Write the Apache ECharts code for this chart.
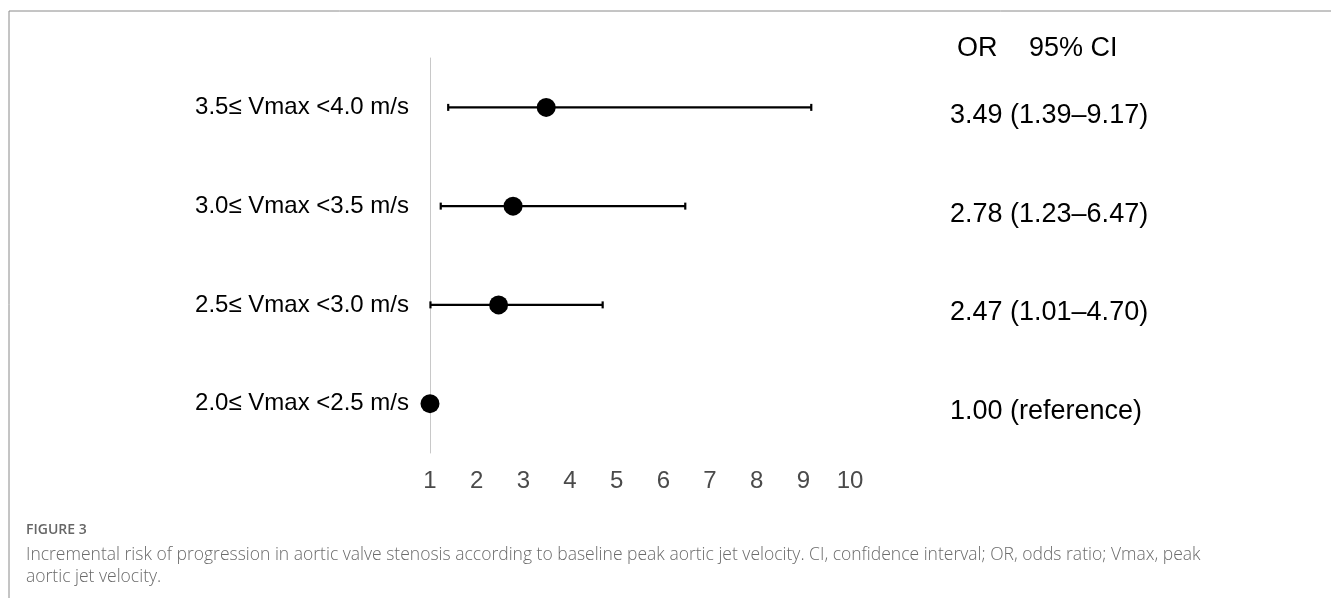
<!DOCTYPE html>
<html>
<head>
<meta charset="utf-8">
<script src="https://cdn.jsdelivr.net/npm/echarts@6/dist/echarts.min.js"></script>
<style>
html,body{margin:0;padding:0;background:#fff;}
#chart{width:1331px;height:598px;}
</style>
</head>
<body>
<div id="chart"></div>
<script>
// Data (bottom row first, as the category axis runs upward)
var categories = ['2.0≤ Vmax <2.5 m/s', '2.5≤ Vmax <3.0 m/s', '3.0≤ Vmax <3.5 m/s', '3.5≤ Vmax <4.0 m/s'];
var oddsRatio = [1.00, 2.47, 2.78, 3.49];
var ciLower = [null, 1.01, 1.23, 1.39];
var ciUpper = [null, 4.70, 6.47, 9.17];
var rightLabels = ['1.00 (reference)', '2.47 (1.01–4.70)', '2.78 (1.23–6.47)', '3.49 (1.39–9.17)'];
var xTicks = [1, 2, 3, 4, 5, 6, 7, 8, 9, 10];
var headerOR = 'OR';
var headerCI = '95% CI';
var captionTitle = 'FIGURE 3';
var captionText = 'Incremental risk of progression in aortic valve stenosis according to baseline peak aortic jet velocity. CI, confidence interval; OR, odds ratio; Vmax, peak\naortic jet velocity.';

var ciData = [];
for (var i = 0; i < categories.length; i++) {
  if (ciLower[i] != null) ciData.push([i, ciLower[i], ciUpper[i]]);
}
var pointData = oddsRatio.map(function (v, i) { return [v, i]; });

var chart = echarts.init(document.getElementById('chart'));
var FONT = '"Liberation Sans", Arial, sans-serif';

chart.setOption({
  animation: false,
  backgroundColor: '#fff',
  grid: { left: 430, right: 481, top: 58, bottom: 145, containLabel: false },
  xAxis: {
    type: 'value', min: xTicks[0], max: xTicks[xTicks.length - 1], interval: 1,
    axisLine: { show: false }, axisTick: { show: false }, splitLine: { show: false },
    axisLabel: { margin: 16, fontSize: 24, color: '#4a4a4a', fontFamily: FONT }
  },
  yAxis: [{
    type: 'category', data: categories, boundaryGap: true,
    axisLine: { show: true, lineStyle: { color: '#c8c8c8', width: 1 } },
    axisTick: { show: false }, splitLine: { show: false },
    axisLabel: { margin: 21, fontSize: 24, color: '#000', fontFamily: FONT }
  }, {
    type: 'category', data: rightLabels, boundaryGap: true, position: 'right',
    axisLine: { show: false }, axisTick: { show: false }, splitLine: { show: false },
    axisLabel: { margin: 100, fontSize: 27, color: '#000', fontFamily: FONT, align: 'left', verticalAlign: 'top', lineHeight: 16 }
  }],
  series: [{
    type: 'custom',
    data: ciData,
    encode: { y: 0, x: [1, 2] },
    renderItem: function (params, api) {
      var row = api.value(0);
      var lo = api.coord([api.value(1), row]);
      var hi = api.coord([api.value(2), row]);
      var cap = 3.5;
      var style = { stroke: '#000', lineWidth: 2.2 };
      return {
        type: 'group',
        children: [
          { type: 'line', shape: { x1: lo[0], y1: lo[1], x2: hi[0], y2: hi[1] }, style: style },
          { type: 'line', shape: { x1: lo[0], y1: lo[1] - cap, x2: lo[0], y2: lo[1] + cap }, style: style },
          { type: 'line', shape: { x1: hi[0], y1: hi[1] - cap, x2: hi[0], y2: hi[1] + cap }, style: style }
        ]
      };
    },
    z: 2
  }, {
    type: 'scatter',
    data: pointData,
    symbol: 'circle', symbolSize: 19,
    itemStyle: { color: '#000', opacity: 1 },
    z: 3
  }],
  graphic: [
    { type: 'line', shape: { x1: 9, y1: 11, x2: 1331, y2: 11 }, style: { stroke: '#8a8a8a', lineWidth: 1 } },
    { type: 'line', shape: { x1: 9, y1: 11, x2: 9, y2: 598 }, style: { stroke: '#8a8a8a', lineWidth: 1 } },
    { type: 'text', left: 957, top: 35, style: { text: headerOR, font: '27px ' + FONT, fill: '#000' } },
    { type: 'text', left: 1029, top: 35, style: { text: headerCI, font: '27px ' + FONT, fill: '#000' } },
    { type: 'text', left: 26, top: 523, style: { text: captionTitle, font: '600 14px "Open Sans", sans-serif', fill: '#666' } },
    { type: 'text', left: 26, top: 544, style: { text: captionText, font: '300 17.5px "Open Sans", sans-serif', fill: '#6b6b6b', lineHeight: 22 } }
  ]
});
</script>
</body>
</html>
